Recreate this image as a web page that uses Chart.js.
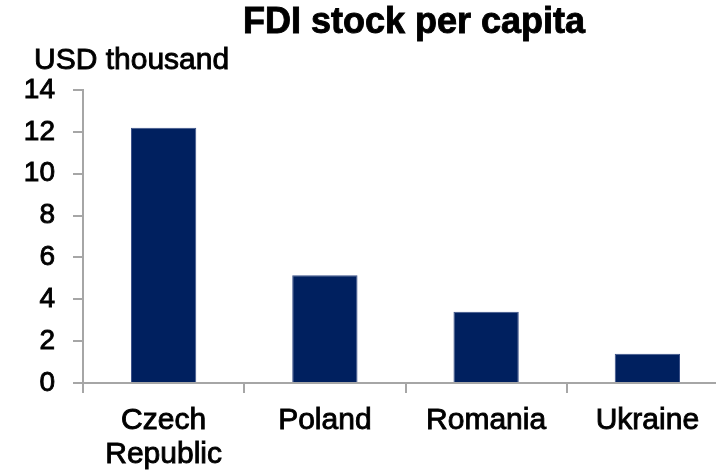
<!DOCTYPE html>
<html>
<head>
<meta charset="utf-8">
<script src="https://cdn.jsdelivr.net/npm/chart.js@4"></script>
<style>
  html, body { margin: 0; padding: 0; background: #fff; overflow: hidden; }
  #wrap { width: 728px; height: 472px; }
</style>
</head>
<body>
<div id="wrap"><canvas id="fdiChart" width="728" height="472"></canvas></div>
<script>
// data
const countries = [['Czech', 'Republic'], 'Poland', 'Romania', 'Ukraine'];
const fdiPerCapita = [12.2, 5.15, 3.4, 1.4];
const yTicks = [0, 2, 4, 6, 8, 10, 12, 14];

const chartTitle = 'FDI stock per capita';
const unitLabel = 'USD thousand';

const FONT = "'Liberation Sans', Arial, sans-serif";
const axisGrey = '#a6a6a6';
const inkStroke = 0.9; // the reference text looks a bit heavier than plain Arial

// title + unit text drawn by hand, the built-in title can't sit off-centre
const headerText = {
  id: 'headerText',
  afterDraw(chart) {
    const ctx = chart.ctx;
    ctx.save();
    ctx.fillStyle = '#000';
    ctx.strokeStyle = '#000';
    ctx.lineWidth = inkStroke;
    ctx.textBaseline = 'alphabetic';
    ctx.font = 'bold 36px ' + FONT;
    ctx.textAlign = 'center';
    ctx.fillText(chartTitle, 414, 33);
    ctx.strokeText(chartTitle, 414, 33);
    ctx.font = '30px ' + FONT;
    ctx.textAlign = 'left';
    ctx.fillText(unitLabel, 34, 69);
    ctx.strokeText(unitLabel, 34, 69);
    ctx.restore();
  }
};

new Chart(document.getElementById('fdiChart'), {
  type: 'bar',
  data: {
    labels: countries,
    datasets: [{
      data: fdiPerCapita,
      backgroundColor: '#00205f',
      borderColor: '#3a5088',
      borderWidth: 1,
      barPercentage: 0.405,
      categoryPercentage: 1.0
    }]
  },
  options: {
    responsive: false,
    animation: false,
    layout: { padding: { top: 90, left: 0, right: 0, bottom: 0 } },
    plugins: {
      legend: { display: false },
      tooltip: { enabled: false }
    },
    scales: {
      x: {
        grid: { display: true, drawOnChartArea: false, offset: true, tickLength: 10, color: axisGrey, lineWidth: 2 },
        border: { display: true, color: axisGrey, width: 2 },
        ticks: {
          color: '#000',
          textStrokeColor: '#000',
          textStrokeWidth: inkStroke,
          font: { family: FONT, size: 30, lineHeight: 1.15 },
          padding: 10,
          maxRotation: 0,
          autoSkip: false
        },
        afterFit(scale) { scale.height = 89; }
      },
      y: {
        min: 0,
        max: 14,
        afterBuildTicks(scale) { scale.ticks = yTicks.map(v => ({ value: v })); },
        grid: { display: true, drawOnChartArea: false, tickLength: 10, color: axisGrey, lineWidth: 2 },
        border: { display: true, color: axisGrey, width: 2 },
        ticks: {
          color: '#000',
          textStrokeColor: '#000',
          textStrokeWidth: inkStroke,
          font: { family: FONT, size: 28 },
          padding: 18
        },
        afterFit(scale) { scale.width = 83; }
      }
    }
  },
  plugins: [headerText]
});
</script>
</body>
</html>
